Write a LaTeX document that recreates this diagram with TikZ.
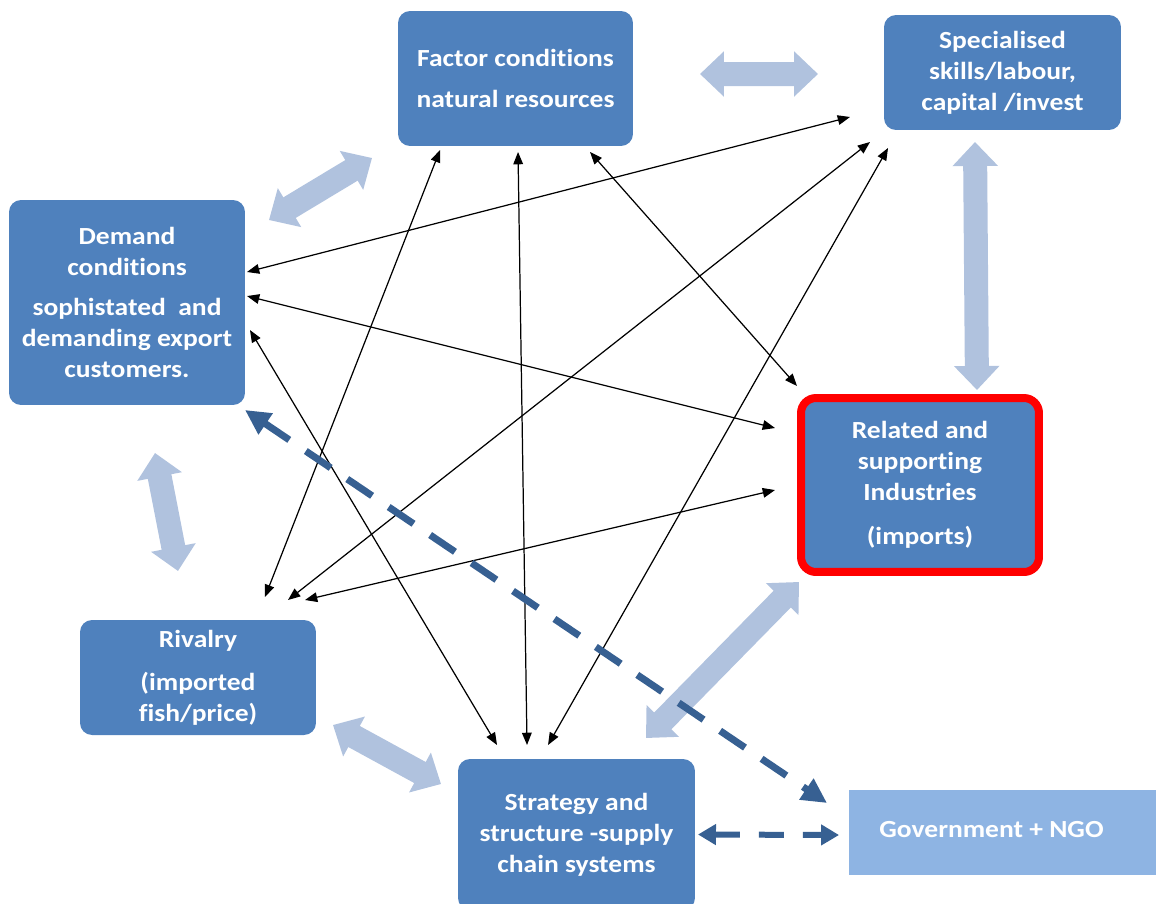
\documentclass[tikz,border=0pt]{standalone}
\usepackage{fontspec}
\setmainfont{Carlito}[FakeStretch=1.12, Ligatures=NoCommon]
\usetikzlibrary{arrows.meta}

\definecolor{boxblue}{RGB}{79,129,189}
\definecolor{paleblue}{RGB}{176,194,222}
\definecolor{govblue}{RGB}{142,180,227}
\definecolor{darkblue}{RGB}{55,96,146}

\tikzset{
  box/.style={fill=boxblue, rounded corners=0.24cm, text=white, align=center,
    inner sep=0pt, outer sep=0pt, font=\fontsize{14}{17.6}\selectfont\bfseries},
  link/.style={line width=0.7pt,
    {Triangle[length=7pt,width=5.5pt]}-{Triangle[length=7pt,width=5.5pt]}},
  wide/.style={paleblue, line width=0.48cm,
    {Triangle[length=0.48cm,width=0.88cm]}-{Triangle[length=0.48cm,width=0.88cm]}},
  govlink/.style={darkblue, line width=0.14cm, dash pattern=on 0.6cm off 0.4cm,
    {Triangle[length=0.5cm,width=0.48cm]}-{Triangle[length=0.5cm,width=0.48cm]}},
  govside/.style={darkblue, line width=0.12cm, dash pattern=on 0.5cm off 0.38cm,
    {Triangle[length=0.36cm,width=0.4cm]}-{Triangle[length=0.36cm,width=0.4cm]}}
}

\begin{document}
\begin{tikzpicture}[x=0.02cm, y=-0.02cm]
  \useasboundingbox (0,0) rectangle (1156,903);

  \node[box, minimum width=4.7cm, minimum height=2.7cm] (factor) at (515.5,78.5)
    {Factor conditions\\[5.7pt]natural resources};
  \node[box, minimum width=4.74cm, minimum height=2.3cm] (special) at (1002.5,72.5)
    {Specialised\\skills/labour,\\capital /invest};
  \node[box, minimum width=4.72cm, minimum height=4.1cm] (demand) at (127,302.5)
    {Demand\\conditions\\[5pt]sophistated\ \ and\\demanding export\\customers.};
  \node[box, draw=red, line width=0.16cm, rounded corners=0.3cm,
    minimum width=4.76cm, minimum height=3.48cm] (related) at (920,485)
    {Related and\\supporting\\Industries\\[7.4pt](imports)};
  \node[box, minimum width=4.72cm, minimum height=2.3cm] (rivalry) at (198,677.5)
    {Rivalry\\[6.8pt](imported\\fish/price)};
  \node[box, minimum width=4.74cm, minimum height=3.02cm] (strategy) at (576.5,834.5)
    {Strategy and\\structure -supply\\chain systems};
  \node[box, fill=govblue, rounded corners=0pt, minimum width=6.14cm, minimum height=1.7cm]
    (gov) at (1002.5,832.5) {\raisebox{0.14cm}{Government + NGO}\hspace{0.44cm}};

  \draw[wide] ([shift={(67,-4.5)}]factor.east) -- ([shift={(-66,1.5)}]special.west);
  \draw[wide] ([shift={(24,20)}]demand.north east) -- ([shift={(-26,12)}]factor.south west);
  \draw[wide] ([shift={(-27.5,12)}]special.south) -- ([shift={(57,-8)}]related.north);
  \draw[wide] ([shift={(28,48)}]demand.south) -- ([shift={(-20,-49)}]rivalry.north);
  \draw[wide] ([shift={(17,-10)}]rivalry.south east) -- ([shift={(-17,25)}]strategy.north west);
  \draw[wide] ([shift={(-2,10)}]related.south west) -- ([shift={(-49,-21)}]strategy.north east);

  \draw[link] ([shift={(2,72)}]demand.north east) -- ([shift={(-34,-13)}]special.south west);
  \draw[link] ([shift={(2,96)}]demand.north east) -- ([shift={(-26,30)}]related.north west);
  \draw[link] ([shift={(5,130)}]demand.north east) -- ([shift={(39,-14)}]strategy.north west);
  \draw[link] ([shift={(42,4)}]factor.south west) -- ([shift={(-51,-23)}]rivalry.north east);
  \draw[link] ([shift={(120,6)}]factor.south west) -- ([shift={(69,-14)}]strategy.north west);
  \draw[link] ([shift={(192,6)}]factor.south west) -- ([shift={(-4,-12)}]related.north west);
  \draw[link] ([shift={(-14,12)}]special.south west) -- ([shift={(-28,-20)}]rivalry.north east);
  \draw[link] ([shift={(4,18)}]special.south west) -- ([shift={(90,-14)}]strategy.north west);
  \draw[link] ([shift={(-26,92)}]related.north west) -- ([shift={(-11,-20)}]rivalry.north east);

  \draw[govlink] ([shift={(0,5)}]demand.south east) -- ([shift={(-22,13)}]gov.north west);
  \draw[govside] ([shift={(3,0)}]strategy.east) -- ([shift={(-10,2.5)}]gov.west);
\end{tikzpicture}
\end{document}
